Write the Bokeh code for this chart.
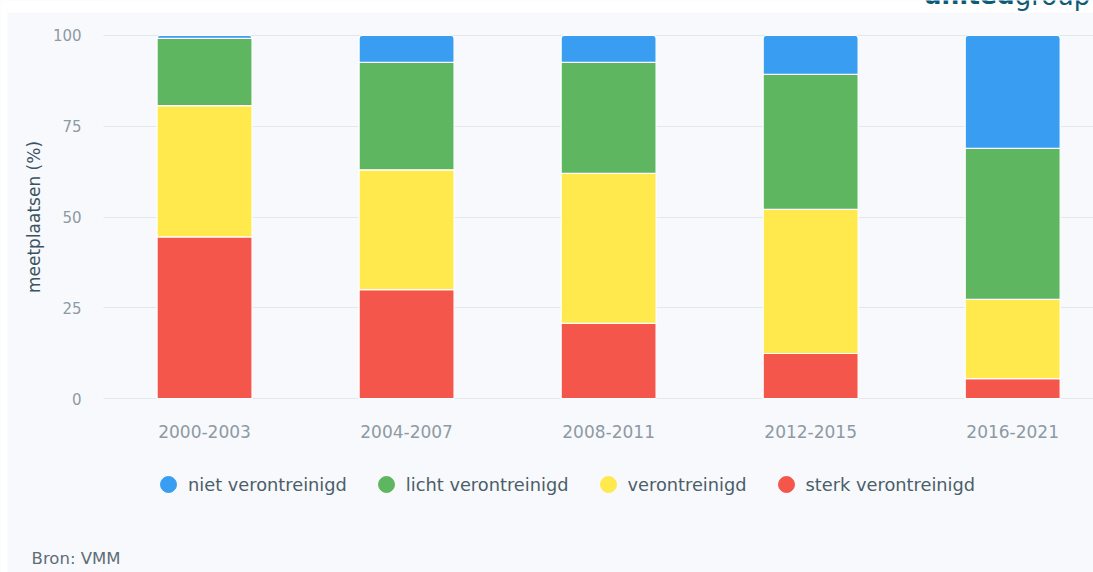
import math
from bokeh.plotting import figure
from bokeh.models import (ColumnDataSource, Range1d, FixedTicker, Legend, LegendItem,
                          Label, BoxAnnotation)
from bokeh.embed import file_html
from bokeh.resources import INLINE

periods = ["2000-2003", "2004-2007", "2008-2011", "2012-2015", "2016-2021"]
sterk = [44.5, 30.0, 20.7, 12.4, 5.5]
veront = [36.2, 33.0, 41.3, 39.7, 21.8]
licht = [18.5, 29.6, 30.6, 37.2, 41.6]
niet = [0.8, 7.4, 7.4, 10.7, 31.1]
y_ticks = [0, 25, 50, 75, 100]

series_keys = ["sterk", "veront", "licht", "niet"]
series_labels = ["sterk verontreinigd", "verontreinigd", "licht verontreinigd", "niet verontreinigd"]
colors = ["#f5564c", "#ffe94d", "#5eb760", "#399ef2"]

FONT = "DejaVu Sans"
BG = "#f8f9fc"

xpos = [i + 0.5 for i in range(len(periods))]
source = ColumnDataSource(dict(x=xpos, sterk=sterk, veront=veront, licht=licht, niet=niet))

# frame covers the whole canvas; axes are pinned at x=0 / y=0
p = figure(width=1093, height=572, output_backend="svg", toolbar_location=None,
           x_range=Range1d(-0.51, 4.90), y_range=Range1d(-47.93, 109.64),
           min_border=0)
p.background_fill_color = BG
p.border_fill_color = BG
p.outline_line_color = None

# cover the grid lines left of the plotting area, and the white page strips
p.add_layout(BoxAnnotation(right=0, fill_color=BG, fill_alpha=1, line_alpha=0, level="underlay"))
p.add_layout(BoxAnnotation(bottom=106.34, fill_color="white", fill_alpha=1, line_alpha=0, level="underlay"))
p.add_layout(BoxAnnotation(right=-0.475, fill_color="white", fill_alpha=1, line_alpha=0, level="underlay"))

rs = p.vbar_stack(series_keys, x="x", width=0.47, color=colors, source=source,
                  line_color="white", line_width=1.2)
rs[-1].glyph.border_radius = (3, 3, 0, 0)

# axes
p.xaxis.fixed_location = 0
p.yaxis.fixed_location = 0
p.xaxis.ticker = FixedTicker(ticks=xpos)
p.xaxis.major_label_overrides = {x: lab for x, lab in zip(xpos, periods)}
p.yaxis.ticker = FixedTicker(ticks=y_ticks)
for ax in (p.xaxis[0], p.yaxis[0]):
    ax.axis_line_color = None
    ax.major_tick_line_color = None
    ax.minor_tick_line_color = None
    ax.major_label_text_font = FONT
    ax.major_label_text_color = "#8d9aa3"
p.xaxis.major_label_text_font_size = "17px"
p.xaxis.major_label_standoff = 20
p.yaxis.major_label_text_font_size = "15px"
p.yaxis.major_label_standoff = 16

p.add_layout(Label(x=-0.3465, y=50, text="meetplaatsen (%)", angle=math.pi / 2,
                   text_align="center", text_baseline="middle", text_font=FONT,
                   text_font_size="17px", text_color="#3b5361"))

p.xgrid.grid_line_color = None
p.ygrid.grid_line_color = "#e3e8ec"
p.ygrid.grid_line_width = 1

# legend with circle markers
nan = float("nan")
items = []
for key, lab, col in zip(series_keys[::-1], series_labels[::-1], colors[::-1]):
    r = p.scatter(x=[nan], y=[nan], marker="circle", size=10, fill_color=col, line_color=col)
    items.append(LegendItem(label=lab, renderers=[r]))
legend = Legend(items=items, orientation="horizontal", location=(148, 68),
                glyph_width=40, glyph_height=40, label_standoff=0, spacing=19,
                padding=0, margin=0, border_line_alpha=0, background_fill_alpha=0,
                label_text_font=FONT, label_text_font_size="17.8px", label_text_color="#4b5e69")
p.add_layout(legend, "center")

p.add_layout(Label(x=-0.356, y=-44.1, text="Bron: VMM", text_baseline="middle",
                   text_font=FONT, text_font_size="16.5px", text_color="#5d6d77"))

# partially visible logo at the top right
p.add_layout(Label(x=4.06, y=111.0, text="united", text_font=FONT, text_font_size="25px",
                   text_font_style="bold", text_color="#0e5b78", text_baseline="alphabetic"))
p.add_layout(Label(x=4.51, y=111.0, text="group", text_font=FONT, text_font_size="26px",
                   text_color="#0e5b78", text_baseline="alphabetic"))

open("out.html", "w").write(file_html(p, INLINE))
